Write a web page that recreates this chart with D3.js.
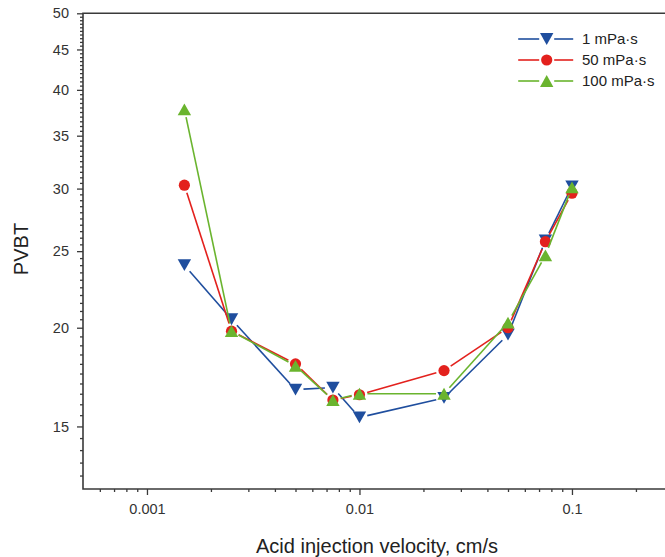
<!DOCTYPE html>
<meta charset="utf-8">
<body style="margin:0;background:#fff">
<div id="chart"></div>
<script src="https://cdn.jsdelivr.net/npm/d3@7"></script>
<script>
// velocities (cm/s) and PVBT for each viscosity
const velocity = [0.0015, 0.0025, 0.005, 0.0075, 0.01, 0.025, 0.05, 0.075, 0.1];
const pvbt1 = [24.0, 20.5, 16.7, 16.8, 15.4, 16.3, 19.6, 25.8, 30.2];
const pvbt50 = [30.3, 19.8, 18.0, 16.2, 16.45, 17.65, 20.0, 25.7, 29.6];
const pvbt100 = [37.8, 19.8, 17.9, 16.2, 16.5, 16.5, 20.3, 24.7, 30.1];
const seriesNames = ["1 mPa·s", "50 mPa·s", "100 mPa·s"];
const xTickLabels = [0.001, 0.01, 0.1];
const yTickLabels = [15, 20, 25, 30, 35, 40, 45, 50];

const width = 665, height = 557;
const plotLeft = 83, plotTop = 13.3, plotBottom = 489;
const axisColor = "#3a3a3a";

const svg = d3.select("#chart").append("svg")
    .attr("width", width)
    .attr("height", height)
    .style("font-family", "'Liberation Sans', Arial, sans-serif");

const x = d3.scaleLog().domain([0.0005, 0.3]).range([plotLeft, plotLeft + 212.5 * Math.log10(600)]);
const y = d3.scaleLog().domain([12.5, 50]).range([plotBottom, plotTop]);

// minor ticks
const xMinor = [];
[0.0001, 0.001, 0.01, 0.1].forEach(d => {
  for (let k = 2; k <= 9; k++) {
    const v = +(d * k).toPrecision(3);
    if (v > 0.0005 && v <= 0.3 && xTickLabels.indexOf(v) < 0) xMinor.push(v);
  }
});
const yMinor = d3.range(12.5, 50.01, 0.5).filter(v => yTickLabels.indexOf(v) < 0 && v > 12.5);

const gx = svg.append("g").attr("transform", `translate(0,${plotBottom})`);
gx.call(d3.axisBottom(x).tickValues(xMinor).tickSize(3).tickFormat(""))
  .call(g => g.select(".domain").remove());
gx.append("g").call(d3.axisBottom(x).tickValues(xTickLabels).tickSize(6).tickPadding(9)
    .tickFormat(d3.format("")))
  .call(g => g.select(".domain").remove());
gx.selectAll("line").attr("stroke", axisColor).attr("stroke-width", 1.3);
gx.selectAll("text").attr("fill", "#333").style("font-size", "14.5px");

const gy = svg.append("g").attr("transform", `translate(${plotLeft},0)`);
gy.call(d3.axisLeft(y).tickValues(yMinor).tickSize(3).tickFormat(""))
  .call(g => g.select(".domain").remove());
gy.append("g").call(d3.axisLeft(y).tickValues(yTickLabels).tickSize(6).tickPadding(8)
    .tickFormat(d3.format("")))
  .call(g => g.select(".domain").remove());
gy.selectAll("line").attr("stroke", axisColor).attr("stroke-width", 1.3);
gy.selectAll("text").attr("fill", "#333").style("font-size", "14.5px");

// frame: left, bottom, top
svg.append("path")
  .attr("d", `M${width},${plotTop}H${plotLeft}V${plotBottom}H${width}`)
  .attr("fill", "none").attr("stroke", axisColor).attr("stroke-width", 1.6);

svg.append("text")
  .attr("x", 377).attr("y", 553)
  .attr("text-anchor", "middle")
  .style("font-size", "20px").attr("fill", "#222")
  .text("Acid injection velocity, cm/s");

svg.append("text")
  .attr("transform", "translate(28,249) rotate(-90)")
  .attr("text-anchor", "middle")
  .style("font-size", "20px").attr("fill", "#222")
  .text("PVBT");

const series = [
  {name: seriesNames[0], values: pvbt1, color: "#1f4e9e", shape: "down"},
  {name: seriesNames[1], values: pvbt50, color: "#e3211d", shape: "circle"},
  {name: seriesNames[2], values: pvbt100, color: "#6ab42e", shape: "up"}
];

function marker(sel, shape, color) {
  if (shape === "circle") {
    sel.append("circle").attr("r", 5.6).attr("fill", color);
  } else {
    const s = shape === "down" ? 1 : -1;
    sel.append("path")
      .attr("d", `M-6.7,${-5.9 * s}L6.7,${-5.9 * s}L0,${5.9 * s}Z`)
      .attr("fill", color);
  }
}

const gap = 8;
series.forEach(s => {
  const pts = velocity.map((v, i) => [x(v), y(s.values[i])]);
  const g = svg.append("g");
  for (let i = 0; i < pts.length - 1; i++) {
    const [x0, y0] = pts[i], [x1, y1] = pts[i + 1];
    const len = Math.hypot(x1 - x0, y1 - y0);
    if (len <= 2 * gap) continue;
    const ux = (x1 - x0) / len, uy = (y1 - y0) / len;
    g.append("line")
      .attr("x1", x0 + ux * gap).attr("y1", y0 + uy * gap)
      .attr("x2", x1 - ux * gap).attr("y2", y1 - uy * gap)
      .attr("stroke", s.color).attr("stroke-width", 1.6);
  }
  pts.forEach(p => {
    const m = g.append("g").attr("transform", `translate(${p[0]},${p[1]})`);
    marker(m, s.shape, s.color);
  });
});

// legend
const legend = svg.append("g");
series.forEach((s, i) => {
  const ly = 39 + i * 21;
  const row = legend.append("g").attr("transform", `translate(546.7,${ly})`);
  row.append("line").attr("x1", -28.5).attr("x2", -7.5).attr("stroke", s.color).attr("stroke-width", 1.6);
  row.append("line").attr("x1", 7.5).attr("x2", 26.5).attr("stroke", s.color).attr("stroke-width", 1.6);
  marker(row, s.shape, s.color);
  legend.append("text")
    .attr("x", 582).attr("y", ly + 5)
    .style("font-size", "15px").attr("fill", "#222")
    .text(s.name);
});
</script>
</body>
